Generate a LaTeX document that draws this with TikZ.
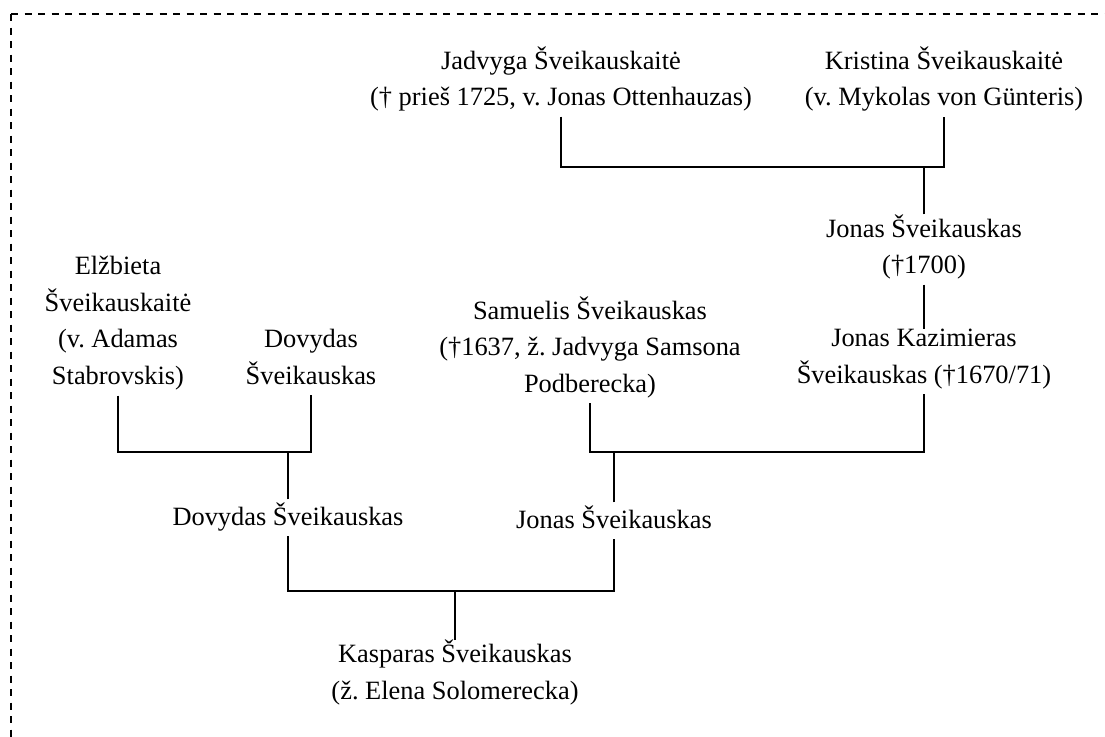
\documentclass[tikz,border=0pt]{standalone}
\usepackage{fontspec}
\setmainfont{Liberation Serif}
\usepackage{tikz}
\usetikzlibrary{calc}

\begin{document}
\begin{tikzpicture}[x=0.5pt, y=-0.5pt,
    font=\fontsize{13.2}{18.3}\selectfont\frenchspacing,
    person/.style={align=center, anchor=north, inner sep=0pt, outer sep=0pt,
      execute at begin node=\strut, execute at end node=\strut},
    link/.style={line width=1pt, black},
    frame/.style={line width=0.75pt, dash pattern=on 3.5pt off 3.25pt}]

    \useasboundingbox (0,0) rectangle (1105,736);

    % Dashed frame (runs off the right and bottom edge)
    \draw[frame] (11,14) -- (1110,14);
    \draw[frame] (11,14) -- (11,740);

    % Top generation
    \node[person] (jad) at (561,46.4) {Jadvyga Šveikauskaitė\\(† prieš 1725, v. Jonas Ottenhauzas)};
    \node[person] (kri) at (944,46.4) {Kristina Šveikauskaitė\\(v. Mykolas von Günteris)};

    % Right branch
    \node[person] (jon1700) at (924,214.4) {Jonas Šveikauskas\\(†1700)};
    \node[person] (jonkaz) at (924,329.4) {Jonas Kazimieras\\Šveikauskas (†1670/71)};
    \node[person] (sam) at (590,296.4) {Samuelis Šveikauskas\\(†1637, ž. Jadvyga Samsona\\Podberecka)};

    % Left branch
    \node[person] (elz) at (118,256.4) {Elžbieta\\Šveikauskaitė\\(v. Adamas\\Stabrovskis)};
    \node[person] (dov) at (311,329.4) {Dovydas\\Šveikauskas};

    % Parents and child
    \node[person] (dovjr) at (288,499.4) {Dovydas Šveikauskas};
    \node[person] (jonjr) at (614,502.4) {Jonas Šveikauskas};
    \node[person] (kas) at (455,640) {Kasparas Šveikauskas\\(ž. Elena Solomerecka)};

    % Bar levels
    \coordinate (barA) at (0,167);
    \coordinate (barB) at (0,451.5);
    \coordinate (barC) at (0,591);

    % Connections
    \draw[link] (jad.south) -- (jad.south |- barA) -- (kri.south |- barA) -- (kri.south);
    \draw[link] (jon1700.north) -- (jon1700.north |- barA);
    \draw[link] (jon1700.south) -- (jonkaz.north);

    \draw[link] (sam.south) -- (sam.south |- barB) -- (jonkaz.south |- barB) -- (jonkaz.south);
    \draw[link] (jonjr.north) -- (jonjr.north |- barB);

    \draw[link] (elz.south) -- (elz.south |- barB) -- (dov.south |- barB) -- (dov.south);
    \draw[link] (dovjr.north) -- (dovjr.north |- barB);

    \draw[link] (dovjr.south) -- (dovjr.south |- barC) -- (jonjr.south |- barC) -- (jonjr.south);
    \draw[link] (kas.north) -- (kas.north |- barC);
\end{tikzpicture}
\end{document}
